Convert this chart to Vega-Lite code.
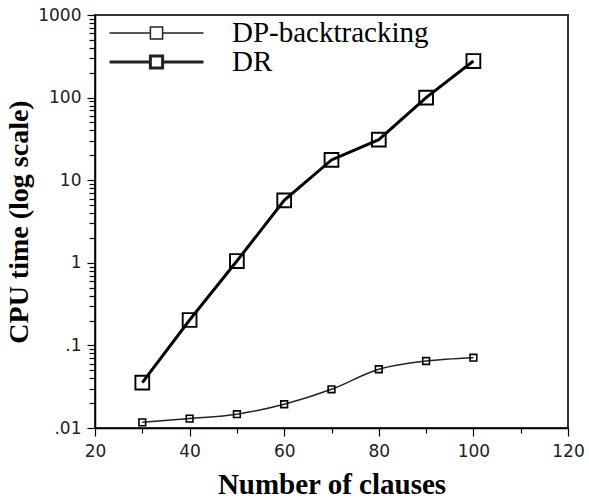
{
  "$schema": "https://vega.github.io/schema/vega-lite/v6.json",
  "autosize": {"type": "none"},
  "padding": {"left": 95, "top": 15, "right": 21, "bottom": 72},
  "width": 473,
  "height": 413,
  "background": "white",
  "config": {
    "view": {"stroke": "#333", "strokeWidth": 2},
    "axis": {
      "domainColor": "black",
      "domainWidth": 1.5,
      "tickColor": "black",
      "tickWidth": 1.2,
      "grid": false,
      "labelFont": "DejaVu Sans",
      "labelFontSize": 17,
      "labelColor": "#222",
      "titleFont": "Liberation Serif",
      "titleFontWeight": "bold",
      "titleColor": "black"
    }
  },
  "data": {
    "values": [
      {"n": 30, "time": 0.0117, "series": "DP-backtracking"},
      {"n": 40, "time": 0.0130, "series": "DP-backtracking"},
      {"n": 50, "time": 0.0147, "series": "DP-backtracking"},
      {"n": 60, "time": 0.0194, "series": "DP-backtracking"},
      {"n": 70, "time": 0.0294, "series": "DP-backtracking"},
      {"n": 80, "time": 0.0514, "series": "DP-backtracking"},
      {"n": 90, "time": 0.0647, "series": "DP-backtracking"},
      {"n": 100, "time": 0.071, "series": "DP-backtracking"},
      {"n": 30, "time": 0.0354, "series": "DR"},
      {"n": 40, "time": 0.203, "series": "DR"},
      {"n": 50, "time": 1.05, "series": "DR"},
      {"n": 60, "time": 5.7, "series": "DR"},
      {"n": 70, "time": 17.6, "series": "DR"},
      {"n": 80, "time": 31, "series": "DR"},
      {"n": 90, "time": 100, "series": "DR"},
      {"n": 100, "time": 277, "series": "DR"}
    ]
  },
  "encoding": {
    "x": {
      "field": "n",
      "type": "quantitative",
      "scale": {"domain": [20, 120], "nice": false, "zero": false},
      "axis": {
        "title": "Number of clauses",
        "titleFontSize": 29,
        "titlePadding": 11,
        "values": [20, 30, 40, 50, 60, 70, 80, 90, 100, 110, 120],
        "labelExpr": "datum.value % 20 == 0 ? datum.label : ''",
        "labelOverlap": false,
        "labelBound": false,
        "labelFlush": false,
        "labelPadding": 7,
        "tickSize": {"condition": {"test": "datum.value % 20 == 0", "value": 8}, "value": 5}
      }
    },
    "y": {
      "field": "time",
      "type": "quantitative",
      "scale": {"type": "log", "domain": [0.01, 1000], "nice": false},
      "axis": {
        "title": "CPU time (log scale)",
        "titleFontSize": 28,
        "titlePadding": 4,
        "values": [0.01, 0.02, 0.03, 0.04, 0.05, 0.06, 0.07, 0.08, 0.09,
                   0.1, 0.2, 0.3, 0.4, 0.5, 0.6, 0.7, 0.8, 0.9,
                   1, 2, 3, 4, 5, 6, 7, 8, 9,
                   10, 20, 30, 40, 50, 60, 70, 80, 90,
                   100, 200, 300, 400, 500, 600, 700, 800, 900, 1000],
        "labelExpr": "abs(log(datum.value)/LN10 - round(log(datum.value)/LN10)) < 0.000001 ? replace(format(datum.value, ''), '0.', '.') : ''",
        "labelOverlap": false,
        "labelBound": false,
        "labelFlush": false,
        "labelPadding": 6,
        "tickSize": {"condition": {"test": "abs(log(datum.value)/LN10 - round(log(datum.value)/LN10)) < 0.000001", "value": 8}, "value": 6}
      }
    }
  },
  "layer": [
    {
      "transform": [{"filter": "datum.series == 'DP-backtracking'"}],
      "mark": {"type": "line", "interpolate": "monotone", "color": "#222"},
      "encoding": {
        "strokeWidth": {
          "field": "series",
          "type": "nominal",
          "scale": {"domain": ["DP-backtracking", "DR"], "range": [1.5, 3]},
          "legend": {
            "title": null,
            "orient": "none",
            "legendX": 13,
            "legendY": 5,
            "padding": 0,
            "symbolType": "M-1,0H-0.13M0.13,0H1M-0.13,-0.13H0.13V0.13H-0.13Z",
            "symbolSize": 8836,
            "clipHeight": 26,
            "rowPadding": 0,
            "labelFont": "Liberation Serif",
            "labelFontSize": 29,
            "labelColor": "black",
            "labelLimit": 400,
            "labelOffset": 27
          }
        }
      }
    },
    {
      "transform": [{"filter": "datum.series == 'DR'"}],
      "mark": {"type": "line", "color": "black"},
      "encoding": {
        "strokeWidth": {"field": "series", "type": "nominal", "legend": null}
      }
    },
    {
      "transform": [{"filter": "datum.series == 'DP-backtracking'"}],
      "mark": {"type": "point", "shape": "square", "filled": false, "color": "black", "strokeWidth": 1.6, "opacity": 1, "size": 45}
    },
    {
      "transform": [{"filter": "datum.series == 'DR'"}],
      "mark": {"type": "point", "shape": "square", "filled": false, "color": "black", "strokeWidth": 1.9, "opacity": 1, "size": 190}
    }
  ]
}
